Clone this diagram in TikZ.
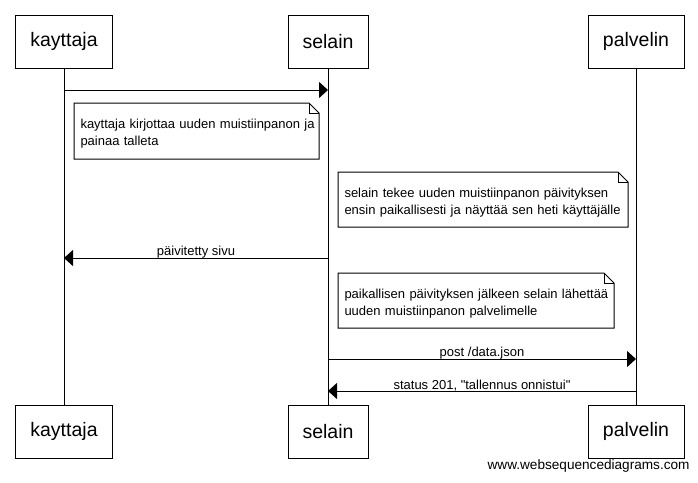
\documentclass[tikz,border=0pt]{standalone}
\usepackage{fontspec}
\setmainfont{Liberation Sans}[Ligatures=TeXOff]
\usetikzlibrary{arrows.meta,positioning}
\begin{document}
\begin{tikzpicture}[x=1pt,y=-1pt,line width=1pt,
  actor/.style={draw,minimum height=53pt,inner sep=0pt,font=\fontsize{19.5}{22}\selectfont},
  notebox/.style={anchor=north west,inner sep=6pt,align=left,font=\fontsize{13}{17}\selectfont},
  msg/.style={-{Triangle[length=9pt,width=16pt]}},
  lbl/.style={font=\fontsize{13}{15}\selectfont,inner sep=0pt}]
\useasboundingbox (0,0) rectangle (698,482);
% actors
\node[actor,minimum width=97pt] (kt) at (64,41.5) {kayttaja};
\node[actor,minimum width=80pt] (st) at (328,41.5) {selain};
\node[actor,minimum width=96pt] (pt) at (636,41.5) {palvelin};
\node[actor,minimum width=97pt] (kb) at (64,431.5) {kayttaja};
\node[actor,minimum width=80pt] (sb) at (328,431.5) {selain};
\node[actor,minimum width=96pt] (pb) at (636,431.5) {palvelin};
% lifelines
\draw (kt.south) -- (kb.north);
\draw (st.south) -- (sb.north);
\draw (pt.south) -- (pb.north);
% message points
\coordinate (k1) at (64,90);   \coordinate (s1) at (328,90);
\coordinate (k2) at (64,258);  \coordinate (s2) at (328,258);
\coordinate (s3) at (328,359); \coordinate (p3) at (636,359);
\coordinate (s4) at (328,391); \coordinate (p4) at (636,391);
\draw[msg] (k1) -- (s1);
\draw[msg] (s2) -- (k2) node[lbl,midway,above=-0.5pt] {päivitetty sivu};
\draw[msg] (s3) -- (p3) node[lbl,midway,above=-0.5pt] {post /data.json};
\draw[msg] (p4) -- (s4) node[lbl,midway,above=-0.5pt] {status 201, "tallennus onnistui"};
% notes
\node[notebox,minimum width=244pt,minimum height=55pt,text width=232pt] (n1) at (74,103)
  {\rule{0pt}{15pt}\mbox{kayttaja kirjottaa uuden muistiinpanon ja}\\\mbox{painaa talleta}};
\node[notebox,minimum width=289pt,minimum height=54pt,text width=277pt] (n2) at (338,172)
  {\rule{0pt}{15pt}\mbox{selain tekee uuden muistiinpanon päivityksen}\\\mbox{ensin paikallisesti ja näyttää sen heti käyttäjälle}};
\node[notebox,minimum width=275pt,minimum height=54pt,text width=263pt] (n3) at (338,273)
  {\rule{0pt}{15pt}\mbox{paikallisen päivityksen jälkeen selain lähettää}\\\mbox{uuden muistiinpanon palvelimelle}};
\foreach \n in {n1,n2,n3}{
  \draw (\n.north west) -- ([xshift=-10pt]\n.north east) -- ([yshift=-10pt]\n.north east)
    -- (\n.south east) -- (\n.south west) -- cycle;
  \draw ([xshift=-10pt]\n.north east) -- ([xshift=-10pt,yshift=-10pt]\n.north east) -- ([yshift=-10pt]\n.north east);
}
% watermark
\node[lbl,anchor=east,font=\fontsize{13.6}{15}\selectfont] (wm) at (690,466) {www.websequencediagrams.com};
\end{tikzpicture}
\end{document}
